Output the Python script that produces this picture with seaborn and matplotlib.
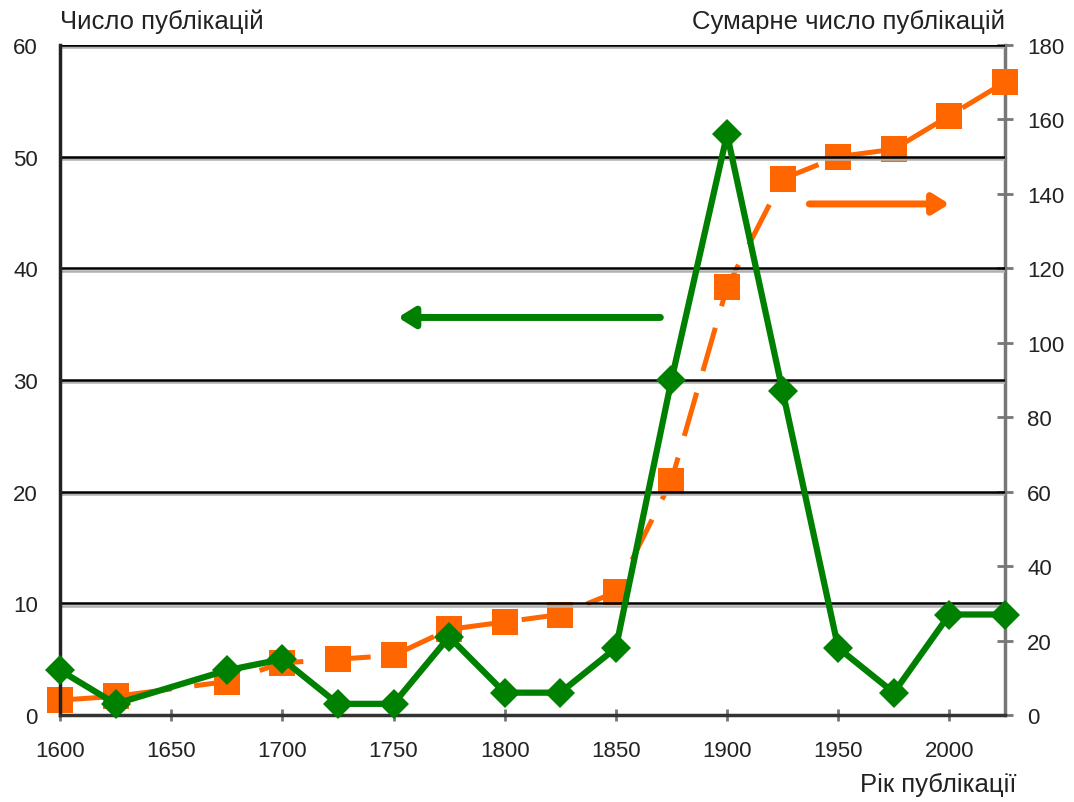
import matplotlib
matplotlib.use("Agg")
import matplotlib.pyplot as plt
import seaborn as sns
import pandas as pd

years = [1600, 1625, 1675, 1700, 1725, 1750, 1775, 1800, 1825, 1850,
         1875, 1900, 1925, 1950, 1975, 2000, 2025]
publications = [4, 1, 4, 5, 1, 1, 7, 2, 2, 6, 30, 52, 29, 6, 2, 9, 9]
cumulative = [4, 5, 9, 14, 15, 16, 23, 25, 27, 33, 63, 115, 144, 150, 152, 161, 170]
x_ticks = [1600, 1650, 1700, 1750, 1800, 1850, 1900, 1950, 2000]
left_ticks = [0, 10, 20, 30, 40, 50, 60]
right_ticks = [0, 20, 40, 60, 80, 100, 120, 140, 160, 180]

df = pd.DataFrame({"year": years, "pub": publications, "cum": cumulative})

sns.set_theme(style="white")
plt.rcParams["font.family"] = ["Liberation Sans", "DejaVu Sans"]

GREEN = "#008000"
ORANGE = "#FF6600"

fig = plt.figure(figsize=(10.74, 8.03), dpi=100)
ax = fig.add_axes([60/1074, 1 - 716/803, (1005 - 60)/1074, (716 - 46)/803])
ax2 = ax.twinx()

ax.set_ylim(0, 60)
for y in left_ticks[1:]:
    ax.plot([0, 1], [y - 0.2, y - 0.2], color="#b0b0b0", lw=1.8,
            transform=ax.get_yaxis_transform(), zorder=0.4)
    ax.plot([0, 1], [y, y], color="black", lw=1.8,
            transform=ax.get_yaxis_transform(), zorder=0.6)

sns.lineplot(data=df, x="year", y="cum", ax=ax2, color=ORANGE, lw=3.6,
             marker="s", markersize=19, markeredgewidth=0,
             linestyle=(0, (9, 4.5)), zorder=3, clip_on=False)
sns.lineplot(data=df, x="year", y="pub", ax=ax, color=GREEN, lw=4.5,
             marker="D", markersize=15, markeredgewidth=0, zorder=4,
             clip_on=False)

ax.set_zorder(ax2.get_zorder() + 1)
ax.patch.set_visible(False)

ax.set_xlim(1600, 2025)
ax.set_ylim(0, 60)
ax2.set_ylim(0, 180)
ax.set_xticks(x_ticks)
ax.set_yticks(left_ticks)
ax2.set_yticks(right_ticks)
ax.set_xlabel("")
ax.set_ylabel("")
ax2.set_ylabel("")

fs = 16
ax.tick_params(axis="x", labelsize=fs, colors="#222222", direction="inout",
               length=8, width=2, bottom=True, pad=14, color="#777777")
ax.tick_params(axis="y", labelsize=fs, colors="#222222", left=False, pad=10)
ax2.tick_params(axis="y", labelsize=fs, colors="#222222", direction="inout",
                length=12, width=2, right=True, pad=10, color="#777777")

for a in (ax, ax2):
    a.spines["top"].set_visible(False)
ax.spines["left"].set_color("#222222")
ax.spines["left"].set_linewidth(2.5)
ax.spines["bottom"].set_color("#333333")
ax.spines["bottom"].set_linewidth(2.5)
ax.spines["right"].set_visible(False)
ax2.spines["left"].set_visible(False)
ax2.spines["bottom"].set_visible(False)
ax2.spines["right"].set_color("#777777")
ax2.spines["right"].set_linewidth(2.5)

# arrows indicating axes
ax.annotate("", xy=(1752, 35.6), xytext=(1870, 35.6),
            arrowprops=dict(arrowstyle="-|>,head_length=0.8,head_width=0.5",
                            color=GREEN, lw=5, shrinkA=0, shrinkB=0))
ax2.annotate("", xy=(2000, 137.3), xytext=(1937, 137.3),
             arrowprops=dict(arrowstyle="-|>,head_length=0.8,head_width=0.5",
                             color=ORANGE, lw=5, shrinkA=0, shrinkB=0))

tfs = 18.5
fig.text(60/1074, 1 - 22/803, "Число публікацій", ha="left", va="center",
         fontsize=tfs, color="#222222")
fig.text(1005/1074, 1 - 22/803, "Сумарне число публікацій", ha="right", va="center",
         fontsize=tfs, color="#222222")
fig.text(1017/1074, 1 - 785/803, "Рік публікації", ha="right", va="center",
         fontsize=tfs, color="#222222")

fig.savefig("out.png", dpi=100)
